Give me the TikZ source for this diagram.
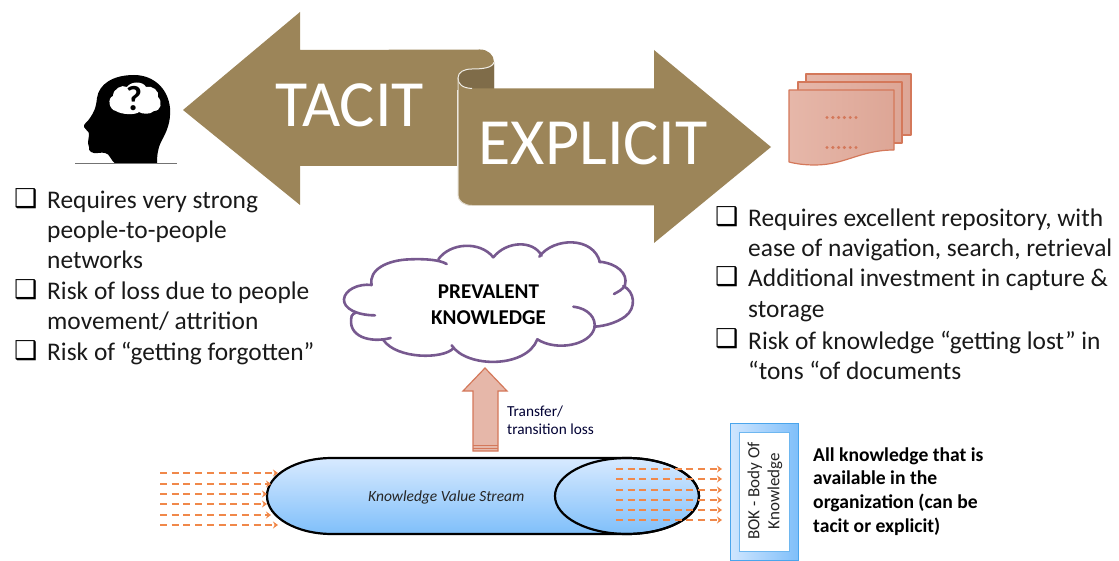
\documentclass[tikz,border=0pt]{standalone}
\usepackage{fontspec}
\setmainfont{Carlito}
\newfontfamily\symfont{DejaVu Sans}
\usetikzlibrary{arrows.meta}
\definecolor{brownfill}{HTML}{9C8559}
\definecolor{browndark}{HTML}{7F6C49}
\definecolor{docline}{HTML}{D4785A}
\definecolor{docfill}{HTML}{E6B7A9}
\definecolor{docdark}{HTML}{DDA696}
\definecolor{cloudline}{HTML}{77598F}
\definecolor{flow}{HTML}{F0884A}
\definecolor{bokblue}{HTML}{4AA5EC}
\definecolor{pilltop}{HTML}{D8EAFF}
\definecolor{pillbot}{HTML}{7FBFFA}
\tikzset{
  bigtxt/.style={anchor=base west,inner sep=0pt,text=white,font=\fontsize{66}{66}\selectfont},
  bullettxt/.style={anchor=base west,inner sep=0pt,text=black!90,font=\fontsize{25.4}{25}\selectfont},
  boxmark/.style={anchor=base west,inner sep=0pt,text=black,font=\symfont\fontsize{26}{26}\selectfont},
  sheet/.style={draw=docline,line width=1.2pt,left color=docfill,right color=docdark,line join=round},
  flowline/.style={draw=flow,line width=2.2pt,dash pattern=on 7pt off 4.7pt,-{Stealth[length=5pt,width=7pt,fill=flow]}},
  cloudstroke/.style={draw=cloudline,line width=2.6pt,line cap=round},
  smalltxt/.style={anchor=base west,inner sep=0pt,text=black!80!blue,font=\fontsize{15.3}{15.3}\selectfont},
  boldtxt/.style={anchor=base west,inner sep=0pt,text=black,font=\bfseries\fontsize{19.6}{19.6}\selectfont},
  cloudtxt/.style={anchor=base,inner sep=0pt,text=black,font=\bfseries\fontsize{21.1}{21}\selectfont},
}
\begin{document}
\begin{tikzpicture}[x=1pt,y=-1pt]
\useasboundingbox (0,0) rectangle (1119,561);
% head
\fill[black] (157,163.5) .. controls (157,155) and (158,148) .. (161,142)
  .. controls (167,131) and (171,122) .. (170,108)
  .. controls (168,88) and (153,75) .. (134,75)
  .. controls (113,75) and (99,84) .. (97,98)
  .. controls (96,108) and (94,112) .. (90,118)
  .. controls (87,123) and (83,124) .. (84,127)
  .. controls (85,130) and (89,131) .. (89,134)
  .. controls (89,138) and (87,143) .. (89,147)
  .. controls (88,151) and (92,154) .. (98,153)
  .. controls (104,152) and (108,153) .. (110,157)
  .. controls (112,160) and (113,162) .. (115,163.5) -- cycle;
\fill[white] (116,111) .. controls (109,110) and (107,98) .. (113,96)
  .. controls (113,89) and (122,84) .. (127,87)
  .. controls (131,81) and (143,81) .. (146,87)
  .. controls (152,85) and (160,91) .. (158,97)
  .. controls (163,102) and (161,111) .. (154,111)
  .. controls (150,115) and (142,114) .. (139,112)
  .. controls (136,115) and (122,115) .. (116,111) -- cycle;
\node[inner sep=0pt,text=black,font=\bfseries\fontsize{35}{35}\selectfont] (qmark) at (134,99) {?};
\draw[black!55,line width=1pt] (75,163.5) -- (177,163.5);
% tacit arrow
\fill[brownfill] (183,110) -- (300,12) -- (300,50) -- (480,49.5)
  .. controls (488,49.5) and (494,55) .. (494,62) -- (494,90) -- (457,90) -- (457,166) -- (300,166) -- (300,205) -- cycle;
% scroll back
\fill[browndark] (494,62) -- (494,90) -- (470,90) .. controls (462,88) and (458,84) .. (458,78) .. controls (458,72) and (464,69) .. (472,69) .. controls (482,69) and (493,68) .. (494,62) -- cycle;
% explicit arrow
\fill[brownfill] (458,78) .. controls (458,84) and (462,88) .. (472,88.5) -- (654,88.5) -- (654,50) -- (771,147) -- (654,243) -- (654,205.5) -- (472,205.5) .. controls (464,205.5) and (458,201) .. (458,195) -- cycle;
\draw[white!85!brownfill,line width=1pt] (494,62) .. controls (493,68) and (482,69) .. (472,69) .. controls (464,69) and (458,72) .. (458,78) .. controls (458,84) and (462,88) .. (472,88.5);
\draw[white!70!brownfill,line width=1pt] (458,78) -- (458,195) .. controls (458,201) and (464,205.5) .. (472,205.5);
\node[bigtxt] (tacit) at (275,127) {TACIT};
\node[bigtxt] (explicit) at (478.5,165) {EXPLICIT};
% documents
\draw[sheet] (806,74) rectangle (911,135);
\draw[sheet] (798,82) rectangle (902,143);
\draw[sheet] (789,90) -- (894,90) -- (894,150) .. controls (860,150) and (845,165) .. (815,165) .. controls (805,165) and (797,164) .. (789,162) -- cycle;
\foreach \dx in {0,5.8,...,29.5}{
  \fill[docline] (827+\dx,117.5) circle[radius=1.7pt];
  \fill[docline] (827+\dx,147.5) circle[radius=1.7pt];
}
% left bullets
\node[boxmark] (lb1) at (14,208) {❑};
\node[bullettxt] (l1) at (47,209) {Requires very strong};
\node[bullettxt] (l2) at (47,239) {people-to-people};
\node[bullettxt] (l3) at (47,269) {networks};
\node[boxmark] (lb2) at (14,299) {❑};
\node[bullettxt] (l4) at (47,300) {Risk of loss due to people};
\node[bullettxt] (l5) at (47,330) {movement/ attrition};
\node[boxmark] (lb3) at (14,359) {❑};
\node[bullettxt] (l6) at (47,360) {Risk of “getting forgotten”};
% right bullets
\node[boxmark] (rb1) at (715,226) {❑};
\node[bullettxt] (r1) at (748,227) {Requires excellent repository, with};
\node[bullettxt] (r2) at (748,257) {ease of navigation, search, retrieval};
\node[boxmark] (rb2) at (715,286) {❑};
\node[bullettxt] (r3) at (748,287) {Additional investment in capture \&};
\node[bullettxt] (r4) at (748,318) {storage};
\node[boxmark] (rb3) at (715,348) {❑};
\node[bullettxt] (r5) at (748,349) {Risk of knowledge “getting lost” in};
\node[bullettxt] (r6) at (748,379) {“tons “of documents};
% cloud
\begin{scope}[shift={(330,240)},x=0.3333pt,y=-0.3333pt]
\draw[cloudstroke] (135,226) .. controls (80,226) and (40,205) .. (42,178) .. controls (44,150) and (85,130) .. (125,135);
\draw[cloudstroke] (125,135) .. controls (115,90) and (170,60) .. (240,58) .. controls (290,56) and (330,60) .. (350,72);
\draw[cloudstroke] (325,58) .. controls (360,8) and (450,2) .. (490,52);
\draw[cloudstroke] (490,52) .. controls (530,2) and (610,0) .. (635,47);
\draw[cloudstroke] (628,50) .. controls (670,-8) and (790,-12) .. (810,67);
\draw[cloudstroke] (808,65) .. controls (860,70) and (895,100) .. (885,135) .. controls (880,148) and (865,155) .. (852,162);
\draw[cloudstroke] (880,138) .. controls (915,155) and (920,205) .. (885,230) .. controls (860,248) and (825,258) .. (795,260);
\draw[cloudstroke] (730,200) .. controls (775,205) and (800,235) .. (793,265) .. controls (780,315) and (680,335) .. (622,298);
\draw[cloudstroke] (622,298) .. controls (590,385) and (410,385) .. (365,316);
\draw[cloudstroke] (370,325) .. controls (340,358) and (200,358) .. (160,300);
\draw[cloudstroke] (182,294) .. controls (120,310) and (50,290) .. (65,228) .. controls (68,222) and (72,220) .. (78,218);
\end{scope}
\node[cloudtxt] (prev1) at (488.5,299) {PREVALENT};
\node[cloudtxt] (prev2) at (488.5,324) {KNOWLEDGE};
% transfer arrow
\draw[docline,line width=1.2pt,fill=docfill,line join=miter] (473,451) -- (473,391) -- (463,391) -- (485,368) -- (507,391) -- (498,391) -- (498,451) -- cycle;
\draw[docline,line width=0.8pt] (473,445) -- (498,445) (473,448) -- (498,448);
\node[smalltxt] (t1) at (507,416) {Transfer/};
\node[smalltxt] (t2) at (507,434) {transition loss};
% pill
\path[draw=black,line width=2.2pt,top color=pilltop,bottom color=pillbot]
  (332,458) -- (627,458) .. controls (667,458) and (699,475) .. (699,496)
  .. controls (699,517) and (667,534) .. (627,534) -- (332,534)
  .. controls (296,534) and (267,517) .. (267,496)
  .. controls (267,475) and (296,458) .. (332,458) -- cycle;
\draw[black,line width=2.2pt] (627,496) ellipse[x radius=72,y radius=38];
\node[anchor=base west,inner sep=0pt,text=black!85,font=\itshape\fontsize{15.5}{15.5}\selectfont] (kvs) at (368,501) {Knowledge Value Stream};
% flows
\foreach \yy/\xx in {473/278,484/271,494/267,504/267,515/271,525/278}{
  \coordinate (fs) at (160,\yy); \coordinate (fe) at (\xx,\yy);
  \draw[flowline] (fs) -- (fe);
}
\foreach \yy in {469,479,490,500,510,520}{
  \coordinate (gs) at (616,\yy); \coordinate (ge) at (722,\yy);
  \draw[flowline] (gs) -- (ge);
}
% BOK
\draw[draw=bokblue,line width=1.2pt,left color=pilltop!90!pillbot,right color=pillbot] (730.5,423.5) rectangle (798.5,560.5);
\draw[draw=bokblue!80!white,line width=1.4pt,fill=white] (739.5,432.5) rectangle (789.5,551.5);
\node[rotate=90,anchor=center,align=center,inner sep=0pt,text=black!85,font=\fontsize{17}{20}\selectfont] (bok) at (765,491) {BOK - Body Of\\Knowledge};
% description
\node[boldtxt] (d1) at (813,461) {All knowledge that is};
\node[boldtxt] (d2) at (813,484) {available in the};
\node[boldtxt] (d3) at (813,508) {organization (can be};
\node[boldtxt] (d4) at (813,532) {tacit or explicit)};
\end{tikzpicture}
\end{document}
